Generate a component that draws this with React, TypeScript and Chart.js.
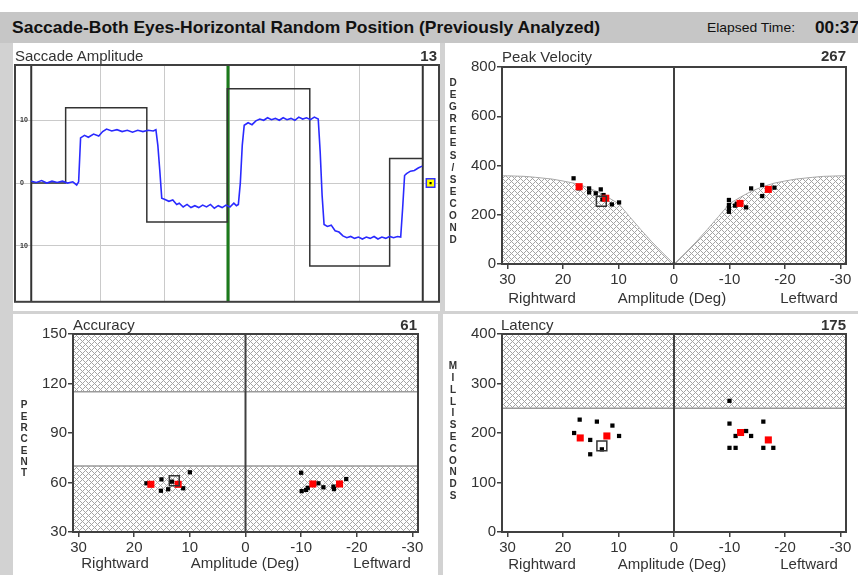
import React, { useEffect, useLayoutEffect, useRef } from 'react';
import { Chart, registerables } from 'chart.js';
Chart.register(...registerables);

const FONT = "'Liberation Sans', Arial, Helvetica, sans-serif";

// ---------- Saccade Amplitude (time units, degrees) ----------
const TL_X_MIN = -0.31;
const TL_X_MAX = 6.22;
const TL_Y_MIN = -18.9;
const TL_Y_MAX = 18.8;
const TL_X_GRID = [1, 2, 3, 4, 5];
const TL_Y_GRID = [-10, 0, 10];
const TL_Y_LABELS = ['10', '0', '10'];
const TL_BOUNDARIES = [-0.06, 5.97];
const TL_CURSOR = 2.97;
const TL_MARKER: [number, number] = [6.09, 0];
const TARGET: [number, number][] = [
  [-0.06, 0], [0.47, 12], [1.72, -6.2], [2.96, 15], [4.23, -13.2], [5.46, 3.9], [5.97, 3.9],
];
const EYE_TRACE: [number, number][] = [
  [-0.06, 0.3], [0.02, 0.1], [0.1, 0.4], [0.18, 0.0], [0.26, 0.3], [0.34, 0.1], [0.42, 0.3], [0.5, 0.0],
  [0.58, 0.2], [0.64, -0.3], [0.67, 0.2], [0.7, 7.2], [0.76, 7.6], [0.82, 7.3], [0.9, 7.8], [0.98, 7.5],
  [1.04, 8.2], [1.1, 8.6], [1.18, 8.3], [1.26, 8.5], [1.34, 8.2], [1.42, 8.4], [1.5, 8.1], [1.58, 8.4],
  [1.66, 8.2], [1.74, 8.4], [1.82, 8.3], [1.86, 8.5], [1.89, 6.0], [1.92, 2.0], [1.95, -2.4], [2.0, -2.6],
  [2.06, -2.9], [2.12, -2.7], [2.18, -3.4], [2.22, -3.2], [2.28, -3.8], [2.34, -3.4], [2.4, -3.9],
  [2.46, -3.6], [2.52, -3.9], [2.58, -3.5], [2.64, -3.8], [2.7, -3.4], [2.76, -4.0], [2.82, -3.6],
  [2.88, -3.9], [2.94, -3.5], [3.0, -3.8], [3.06, -3.2], [3.1, -3.6], [3.13, -3.4], [3.16, 0.0],
  [3.19, 6.0], [3.22, 9.2], [3.28, 9.6], [3.34, 9.3], [3.4, 9.9], [3.46, 10.2], [3.52, 10.0], [3.58, 10.4],
  [3.64, 10.1], [3.7, 10.3], [3.76, 10.0], [3.82, 10.4], [3.88, 10.1], [3.94, 10.3], [4.0, 10.0],
  [4.06, 10.5], [4.12, 10.2], [4.18, 10.4], [4.24, 10.1], [4.3, 10.5], [4.36, 10.2], [4.39, 5.0],
  [4.42, -2.0], [4.45, -6.6], [4.5, -6.9], [4.56, -6.7], [4.62, -7.6], [4.68, -7.8], [4.74, -8.4],
  [4.8, -8.7], [4.86, -8.5], [4.92, -8.8], [4.98, -8.6], [5.04, -8.9], [5.1, -8.6], [5.16, -8.8],
  [5.22, -8.5], [5.28, -8.9], [5.34, -8.6], [5.4, -8.8], [5.46, -8.5], [5.52, -8.7], [5.58, -8.5],
  [5.63, -8.6], [5.66, -4.0], [5.69, 1.2], [5.72, 1.5], [5.78, 1.9], [5.84, 2.0], [5.9, 2.4], [5.96, 2.7],
];

// ---------- shared amplitude axis ----------
const AMP_MIN = -31;
const AMP_MAX = 31;
const AMP_TICKS = [30, 20, 10, 0, -10, -20, -30];

// ---------- Peak Velocity ----------
const PV_TICKS = [0, 200, 400, 600, 800];
const PV_CURVE_RIGHT: [number, number][] = [
  [31, 358], [30, 358], [27, 356], [25, 352], [22, 345], [20, 337], [18, 328], [16, 314], [14, 296],
  [12, 272], [10, 245], [8, 192], [6, 140], [4, 90], [2, 44], [0, 0],
];
const PV_CURVE_LEFT: [number, number][] = [
  [-31, 358], [-30, 358], [-27, 356], [-25, 352], [-22, 345], [-20, 337], [-18, 328], [-16, 314],
  [-14, 296], [-12, 272], [-10, 245], [-8, 192], [-6, 140], [-4, 90], [-2, 44], [0, 0],
];
const PV_BLACK: [number, number][] = [
  [18.1, 348], [17.2, 307], [15.3, 307], [15.3, 291], [14.1, 287], [13.2, 303], [12.7, 280], [12.9, 262],
  [11.2, 242], [9.9, 250], [-9.9, 260], [-9.9, 240], [-9.9, 226], [-9.9, 212], [-11.0, 237], [-11.3, 244],
  [-13.0, 230], [-13.9, 307], [-15.9, 321], [-15.9, 276], [-18.1, 310],
];
const PV_RED: [number, number][] = [[17.1, 314], [12.3, 267], [-11.9, 246], [-17.0, 303]];
const PV_OPEN: [number, number][] = [[13.1, 255]];

// ---------- Accuracy ----------
const ACC_TICKS = [30, 60, 90, 120, 150];
const ACC_BANDS: [number, number][] = [[115, 150], [30, 70]];
const ACC_BLACK: [number, number][] = [
  [17.8, 59.5], [15.1, 61.9], [15.2, 55.0], [13.9, 55.9], [13.2, 60.5], [11.2, 56.5], [10.0, 66.2],
  [-10.0, 65.9], [-10.1, 54.8], [-10.9, 55.5], [-11.2, 56.8], [-13.1, 59.5], [-14.0, 57.1],
  [-15.8, 57.5], [-15.9, 56.0], [-18.1, 62.1],
];
const ACC_RED: [number, number][] = [[17.0, 58.9], [12.1, 58.9], [-12.1, 59.1], [-16.9, 59.1]];
const ACC_OPEN: [number, number][] = [[12.8, 61.1]];

// ---------- Latency ----------
const LAT_TICKS = [0, 100, 200, 300, 400];
const LAT_BANDS: [number, number][] = [[250, 400]];
const LAT_BLACK: [number, number][] = [
  [17.0, 227], [18.0, 200], [13.9, 223], [15.1, 186], [15.1, 157], [13.0, 167], [11.1, 215], [9.9, 194],
  [-10.0, 265], [-10.0, 219], [-10.0, 170], [-11.1, 170], [-11.1, 194], [-13.0, 204], [-13.9, 194],
  [-16.1, 223], [-16.1, 170], [-17.9, 170],
];
const LAT_RED: [number, number][] = [[16.9, 190], [12.1, 194], [-12.0, 201], [-17.0, 186]];
const LAT_OPEN: [number, number][] = [[13.0, 174]];

const pts = (a: [number, number][]) => a.map(([x, y]) => ({ x, y }));

function makeHatch(): CanvasPattern | string {
  const c = document.createElement('canvas');
  c.width = 6;
  c.height = 6;
  const g = c.getContext('2d');
  if (!g) return '#ccc';
  g.fillStyle = '#ffffff';
  g.fillRect(0, 0, 6, 6);
  g.fillStyle = '#a4a4a4';
  for (let i = 0; i < 6; i++) {
    g.fillRect(i, i, 1, 1);
    g.fillRect(i, (6 - i) % 6, 1, 1);
  }
  return g.createPattern(c, 'repeat') || '#ccc';
}

const boxPlugin = {
  id: 'boxBorder',
  afterDraw(chart: any) {
    const { ctx, chartArea: a } = chart;
    ctx.save();
    ctx.strokeStyle = '#404040';
    ctx.lineWidth = 2;
    ctx.strokeRect(a.left, a.top, a.right - a.left, a.bottom - a.top);
    ctx.restore();
  },
};

const bandPlugin = {
  id: 'bands',
  beforeDatasetsDraw(chart: any, _args: any, opts: any) {
    if (!opts || !opts.bands) return;
    const { ctx, chartArea: a, scales } = chart;
    const y = scales.y;
    ctx.save();
    opts.bands.forEach(([lo, hi]: [number, number]) => {
      const y1 = y.getPixelForValue(hi);
      const y2 = y.getPixelForValue(lo);
      ctx.fillStyle = opts.pattern;
      ctx.fillRect(a.left, y1, a.right - a.left, y2 - y1);
      ctx.strokeStyle = '#9a9a9a';
      ctx.lineWidth = 1.5;
      ctx.beginPath();
      ctx.moveTo(a.left, y1);
      ctx.lineTo(a.right, y1);
      ctx.moveTo(a.left, y2);
      ctx.lineTo(a.right, y2);
      ctx.stroke();
    });
    ctx.restore();
  },
};

interface ScatterCfg {
  yTicks: number[];
  yWidth: number;
  padding: { left: number; top: number; right: number; bottom: number };
  black: [number, number][];
  red: [number, number][];
  open: [number, number][];
  curves?: [number, number][][];
  bands?: [number, number][];
}

function makeScatter(canvas: HTMLCanvasElement, cfg: ScatterCfg, pattern: any) {
  const yMin = cfg.yTicks[0];
  const yMax = cfg.yTicks[cfg.yTicks.length - 1];
  const datasets: any[] = [
    { data: pts(cfg.open), pointStyle: 'rect', pointRadius: 7, backgroundColor: 'rgba(0,0,0,0)', borderColor: '#333', borderWidth: 1.5 },
    { data: pts(cfg.red), pointStyle: 'rect', pointRadius: 5, backgroundColor: '#ff0000', borderColor: '#ff0000', borderWidth: 0 },
    { data: pts(cfg.black), pointStyle: 'rect', pointRadius: 3, backgroundColor: '#000', borderColor: '#000', borderWidth: 0 },
    { data: [{ x: 0, y: yMin }, { x: 0, y: yMax }], showLine: true, borderColor: '#404040', borderWidth: 2, pointRadius: 0 },
  ];
  (cfg.curves || []).forEach((c) =>
    datasets.push({ data: pts(c), showLine: true, fill: 'origin', backgroundColor: pattern, borderColor: '#a8a8a8', borderWidth: 1, pointRadius: 0 })
  );
  return new Chart(canvas, {
    type: 'scatter',
    data: { datasets },
    options: {
      animation: false,
      responsive: false,
      maintainAspectRatio: false,
      layout: { padding: cfg.padding, autoPadding: false },
      plugins: {
        legend: { display: false },
        tooltip: { enabled: false },
        bands: { bands: cfg.bands, pattern },
      } as any,
      scales: {
        x: {
          type: 'linear',
          min: AMP_MIN,
          max: AMP_MAX,
          reverse: true,
          afterBuildTicks: (s: any) => { s.ticks = AMP_TICKS.map((v) => ({ value: v })); },
          afterFit: (s: any) => { s.height = 30; },
          ticks: { autoSkip: false, maxRotation: 0, padding: 2, color: '#333', font: { size: 15, family: FONT }, callback: (v: any) => String(v) },
          grid: { drawOnChartArea: false, drawTicks: true, tickLength: 5, color: '#404040', lineWidth: 1.5 },
          border: { display: false },
        },
        y: {
          type: 'linear',
          min: yMin,
          max: yMax,
          afterBuildTicks: (s: any) => { s.ticks = cfg.yTicks.map((v) => ({ value: v })); },
          afterFit: (s: any) => { s.width = cfg.yWidth; },
          ticks: { padding: 1, color: '#333', font: { size: 15, family: FONT }, callback: (v: any) => String(v) },
          grid: { drawOnChartArea: false, drawTicks: true, tickLength: 5, color: '#404040', lineWidth: 1.5 },
          border: { display: false },
        },
      },
    } as any,
    plugins: [bandPlugin, boxPlugin],
  });
}

function makeAmplitude(canvas: HTMLCanvasElement) {
  const vline = (t: number) => [{ x: t, y: TL_Y_MIN }, { x: t, y: TL_Y_MAX }];
  const datasets: any[] = [
    { data: [{ x: TL_MARKER[0], y: TL_MARKER[1] }], pointStyle: 'rect', pointRadius: 1.5, backgroundColor: '#000', borderWidth: 0 },
    { data: [{ x: TL_MARKER[0], y: TL_MARKER[1] }], pointStyle: 'rect', pointRadius: 6, backgroundColor: '#ffff00', borderColor: '#3030ff', borderWidth: 1.5 },
    { data: pts(EYE_TRACE), showLine: true, borderColor: '#2a2aff', borderWidth: 1.6, pointRadius: 0 },
    { data: pts(TARGET), showLine: true, stepped: 'before', borderColor: '#333', borderWidth: 1.5, pointRadius: 0 },
    { data: vline(TL_CURSOR), showLine: true, borderColor: '#1b7a1b', borderWidth: 3, pointRadius: 0 },
    ...TL_BOUNDARIES.map((t) => ({ data: vline(t), showLine: true, borderColor: '#333', borderWidth: 2, pointRadius: 0 })),
  ];
  return new Chart(canvas, {
    type: 'scatter',
    data: { datasets },
    options: {
      animation: false,
      responsive: false,
      maintainAspectRatio: false,
      layout: { padding: { left: 2, top: 22, right: 1, bottom: 1 }, autoPadding: false },
      plugins: { legend: { display: false }, tooltip: { enabled: false } },
      scales: {
        x: {
          type: 'linear',
          min: TL_X_MIN,
          max: TL_X_MAX,
          afterBuildTicks: (s: any) => { s.ticks = TL_X_GRID.map((v) => ({ value: v })); },
          afterFit: (s: any) => { s.height = 0; },
          ticks: { display: false },
          grid: { color: '#cacaca', drawTicks: false },
          border: { display: false },
        },
        y: {
          type: 'linear',
          min: TL_Y_MIN,
          max: TL_Y_MAX,
          afterBuildTicks: (s: any) => { s.ticks = TL_Y_GRID.map((v) => ({ value: v })); },
          afterFit: (s: any) => { s.width = 0; },
          ticks: {
            mirror: true,
            padding: 5,
            color: '#333',
            font: { size: 7, family: FONT, weight: 'bold' },
            callback: (v: any) => TL_Y_LABELS[TL_Y_GRID.indexOf(Number(v))] ?? '',
          },
          grid: { color: '#cacaca', drawTicks: false },
          border: { display: false },
        },
      },
    } as any,
    plugins: [boxPlugin],
  });
}

function T(props: { x: number; y: number; text: string; size?: number; bold?: boolean; align?: 'left' | 'right' | 'center'; color?: string }) {
  const { x, y, text, size = 15, bold = false, align = 'left', color = '#333' } = props;
  const h = Math.round(size * 1.4);
  const base: React.CSSProperties = {
    position: 'absolute', top: y - h / 2, height: h, lineHeight: h + 'px', fontSize: size,
    fontWeight: bold ? 'bold' : 'normal', whiteSpace: 'nowrap', color, fontFamily: FONT,
  };
  if (align === 'left') return <div style={{ ...base, left: x }}>{text}</div>;
  if (align === 'right') return <div style={{ ...base, left: x - 400, width: 400, textAlign: 'right' }}>{text}</div>;
  return <div style={{ ...base, left: x - 200, width: 400, textAlign: 'center' }}>{text}</div>;
}

function FitText(props: { x: number; y: number; width: number; text: string; size: number; bold?: boolean; color?: string }) {
  const ref = useRef<HTMLSpanElement>(null);
  useLayoutEffect(() => {
    const el = ref.current;
    if (!el) return;
    el.style.transform = 'none';
    const w = el.getBoundingClientRect().width;
    if (w > 0) el.style.transform = `scaleX(${props.width / w})`;
  });
  const h = Math.round(props.size * 1.4);
  return (
    <span
      ref={ref}
      style={{
        position: 'absolute', left: props.x, top: props.y - h / 2, height: h, lineHeight: h + 'px',
        fontSize: props.size, fontWeight: props.bold ? 'bold' : 'normal', whiteSpace: 'nowrap',
        fontFamily: FONT, color: props.color || '#111', transformOrigin: 'left center', display: 'inline-block',
      }}
    >
      {props.text}
    </span>
  );
}

function VText(props: { x: number; y0: number; step: number; text: string; size?: number }) {
  const { x, y0, step, text, size = 10 } = props;
  return (
    <>
      {text.split('').map((ch, i) => (
        <div
          key={i}
          style={{
            position: 'absolute', left: x - 8, width: 16, top: y0 + i * step - step / 2, height: step,
            lineHeight: step + 'px', textAlign: 'center', fontSize: size, fontWeight: 'bold',
            fontFamily: FONT, color: '#333',
          }}
        >
          {ch}
        </div>
      ))}
    </>
  );
}

const panel = (l: number, t: number, w: number, h: number): React.CSSProperties => ({
  position: 'absolute', left: l, top: t, width: w, height: h, background: '#fff',
});

export default function App() {
  const tl = useRef<HTMLCanvasElement>(null);
  const tr = useRef<HTMLCanvasElement>(null);
  const bl = useRef<HTMLCanvasElement>(null);
  const br = useRef<HTMLCanvasElement>(null);

  useEffect(() => {
    document.body.style.margin = '0';
    Chart.defaults.font.family = FONT;
    const pattern = makeHatch();
    const charts: Chart[] = [];
    if (tl.current) charts.push(makeAmplitude(tl.current));
    if (tr.current)
      charts.push(makeScatter(tr.current, {
        yTicks: PV_TICKS, yWidth: 57, padding: { left: 0, top: 24, right: 12, bottom: 17 },
        black: PV_BLACK, red: PV_RED, open: PV_OPEN, curves: [PV_CURVE_RIGHT, PV_CURVE_LEFT],
      }, pattern));
    if (bl.current)
      charts.push(makeScatter(bl.current, {
        yTicks: ACC_TICKS, yWidth: 60, padding: { left: 0, top: 20, right: 20, bottom: 13 },
        black: ACC_BLACK, red: ACC_RED, open: ACC_OPEN, bands: ACC_BANDS,
      }, pattern));
    if (br.current)
      charts.push(makeScatter(br.current, {
        yTicks: LAT_TICKS, yWidth: 59, padding: { left: 0, top: 20, right: 12, bottom: 13 },
        black: LAT_BLACK, red: LAT_RED, open: LAT_OPEN, bands: LAT_BANDS,
      }, pattern));
    return () => charts.forEach((c) => c.destroy());
  }, []);

  const cv = (l: number, t: number): React.CSSProperties => ({ position: 'absolute', left: l, top: t });

  return (
    <div style={{ position: 'relative', width: 858, height: 575, background: '#d2d2d2', overflow: 'hidden', fontFamily: FONT }}>
      <div style={{ position: 'absolute', left: 0, top: 0, width: 858, height: 12, background: '#fff' }} />
      <div style={{ position: 'absolute', left: 0, top: 12, width: 858, height: 31, background: '#c6c6c6' }} />
      <FitText x={12} y={28} width={588} text="Saccade-Both Eyes-Horizontal Random Position  (Previously Analyzed)" size={17} bold />
      <FitText x={707} y={28} width={88} text="Elapsed Time:" size={13} />
      <FitText x={815} y={28} width={44} text="00:37" size={16} bold />

      <div style={panel(13, 43, 427, 268)} />
      <div style={panel(445, 43, 413, 268)} />
      <div style={panel(13, 314, 425, 261)} />
      <div style={panel(443, 314, 415, 261)} />

      <canvas ref={tl} width={427} height={268} style={cv(13, 43)} />
      <canvas ref={tr} width={413} height={268} style={cv(445, 43)} />
      <canvas ref={bl} width={425} height={261} style={cv(13, 314)} />
      <canvas ref={br} width={415} height={261} style={cv(443, 314)} />

      <T x={15} y={55} text="Saccade Amplitude" />
      <T x={437} y={55} text="13" bold align="right" />
      <T x={502} y={56} text="Peak Velocity" />
      <T x={846} y={55} text="267" bold align="right" />
      <T x={73} y={324} text="Accuracy" />
      <T x={417} y={324} text="61" bold align="right" />
      <T x={501} y={324} text="Latency" />
      <T x={846} y={324} text="175" bold align="right" />

      <T x={542} y={297} text="Rightward" align="center" />
      <T x={672} y={297} text="Amplitude (Deg)" align="center" />
      <T x={809} y={297} text="Leftward" align="center" />
      <T x={115} y={562} text="Rightward" align="center" />
      <T x={245} y={562} text="Amplitude (Deg)" align="center" />
      <T x={382} y={562} text="Leftward" align="center" />
      <T x={542} y={563} text="Rightward" align="center" />
      <T x={672} y={563} text="Amplitude (Deg)" align="center" />
      <T x={809} y={563} text="Leftward" align="center" />

      <VText x={453} y0={83} step={12.1} text="DEGREES/SECOND" />
      <VText x={453} y0={366} step={11.8} text="MILLISECONDS" />
      <VText x={24} y0={405} step={11.3} text="PERCENT" />
    </div>
  );
}
